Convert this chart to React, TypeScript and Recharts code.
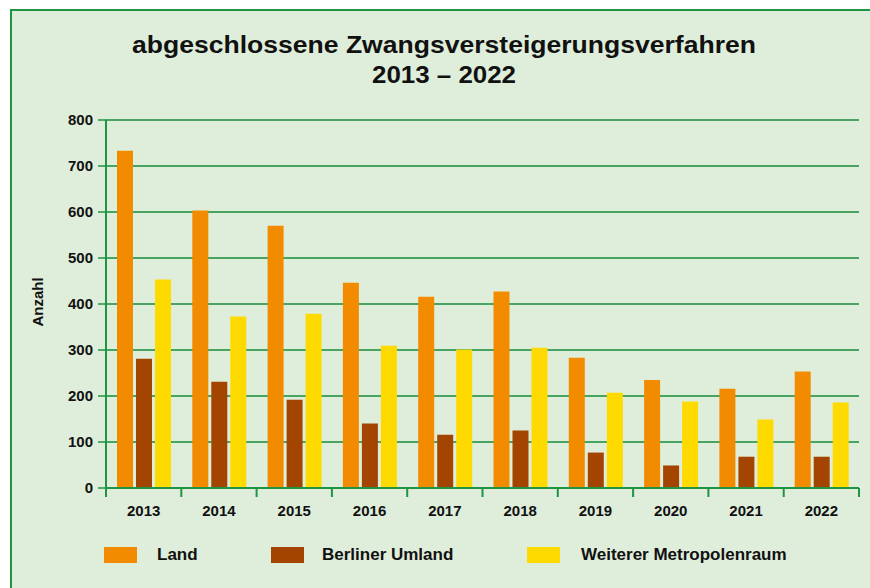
import { Bar, BarChart, CartesianGrid, XAxis, YAxis } from 'recharts';

// Werte
const years = ['2013', '2014', '2015', '2016', '2017', '2018', '2019', '2020', '2021', '2022'];
const land = [733, 603, 570, 446, 416, 427, 283, 235, 216, 253];
const berlinerUmland = [281, 231, 192, 140, 116, 125, 77, 49, 68, 68];
const weitererRaum = [453, 373, 379, 309, 301, 305, 207, 188, 149, 186];
const yTicks = [0, 100, 200, 300, 400, 500, 600, 700, 800];

const series = [
  { key: 'land', name: 'Land', color: '#f28b00', values: land },
  { key: 'umland', name: 'Berliner Umland', color: '#a34500', values: berlinerUmland },
  { key: 'weiter', name: 'Weiterer Metropolenraum', color: '#ffda00', values: weitererRaum },
];

const data = years.map((year, i) => {
  const row: Record<string, string | number> = { year };
  series.forEach((s) => {
    row[s.key] = s.values[i];
  });
  return row;
});

const W = 870;
const H = 588;
const X_AXIS_H = 30;
const MARGIN = { top: 120, right: 11, bottom: 100 - X_AXIS_H, left: 46 };
const Y_AXIS_W = 60;
const BAND = (W - MARGIN.left - Y_AXIS_W - MARGIN.right) / years.length;

const BG = '#dfeeda';
const GREEN = '#1f9442';
const GRID = '#178a39';
const FONT = '"Liberation Sans", Arial, sans-serif';
const INK = '#111';

function YearTick(props: any) {
  const { x, y, payload, index } = props;
  const half = BAND / 2;
  return (
    <g>
      <line x1={x - half} x2={x - half} y1={y} y2={y + 9} stroke={GREEN} strokeWidth={2} />
      {index === years.length - 1 && (
        <line x1={x + half} x2={x + half} y1={y} y2={y + 9} stroke={GREEN} strokeWidth={2} />
      )}
      <text x={x} y={y + 27.5} textAnchor="middle" fontFamily={FONT} fontWeight="bold" fontSize={15} fill={INK}>
        {payload.value}
      </text>
    </g>
  );
}

export default function App() {
  return (
    <div style={{ position: 'absolute', left: 0, top: 0, width: W, height: H, background: '#fff', overflow: 'hidden' }}>
      <div
        style={{
          position: 'absolute',
          left: 10,
          top: 9,
          width: W,
          height: H,
          background: BG,
          borderTop: `2px solid ${GREEN}`,
          borderLeft: `2px solid ${GREEN}`,
        }}
      />
      <div style={{ position: 'absolute', left: 0, top: 0 }}>
        <BarChart width={W} height={H} data={data} margin={MARGIN} barSize={16} barGap={3}>
          <CartesianGrid vertical={false} stroke={GRID} strokeWidth={1.5} />
          <XAxis
            dataKey="year"
            height={X_AXIS_H}
            tick={<YearTick />}
            tickLine={false}
            tickSize={0}
            tickMargin={0}
            axisLine={{ stroke: GREEN, strokeWidth: 2 }}
            interval={0}
          />
          <YAxis
            width={Y_AXIS_W}
            domain={[0, 800]}
            ticks={yTicks}
            interval={0}
            tickSize={8}
            tickMargin={5}
            tickLine={{ stroke: GREEN, strokeWidth: 1.5 }}
            axisLine={{ stroke: GREEN, strokeWidth: 2 }}
            tick={{ fontFamily: FONT, fontWeight: 'bold', fontSize: 15, fill: INK }}
          />
          {series.map((s) => (
            <Bar key={s.key} dataKey={s.key} name={s.name} fill={s.color} isAnimationActive={false} />
          ))}
        </BarChart>
      </div>
      <svg width={W} height={H} style={{ position: 'absolute', left: 0, top: 0, pointerEvents: 'none' }}>
        <text x={444} y={53} textAnchor="middle" fontFamily={FONT} fontWeight="bold" fontSize={24} fill={INK} textLength={624} lengthAdjust="spacingAndGlyphs">
          abgeschlossene Zwangsversteigerungsverfahren
        </text>
        <text x={444} y={83} textAnchor="middle" fontFamily={FONT} fontWeight="bold" fontSize={24} fill={INK} textLength={144} lengthAdjust="spacingAndGlyphs">
          2013 – 2022
        </text>
        <text transform="translate(43,302) rotate(-90)" textAnchor="middle" fontFamily={FONT} fontWeight="bold" fontSize={15} fill={INK}>
          Anzahl
        </text>
      </svg>
      {series.map((s, i) => (
        <div
          key={s.key}
          style={{
            position: 'absolute',
            left: [104, 271, 527][i],
            top: 545,
            display: 'flex',
            alignItems: 'center',
            fontFamily: FONT,
            fontWeight: 'bold',
            fontSize: 17,
            color: INK,
          }}
        >
          <span style={{ width: 33, height: 16, background: s.color, display: 'inline-block' }} />
          <span style={{ marginLeft: [20, 18, 21][i] }}>{s.name}</span>
        </div>
      ))}
    </div>
  );
}
